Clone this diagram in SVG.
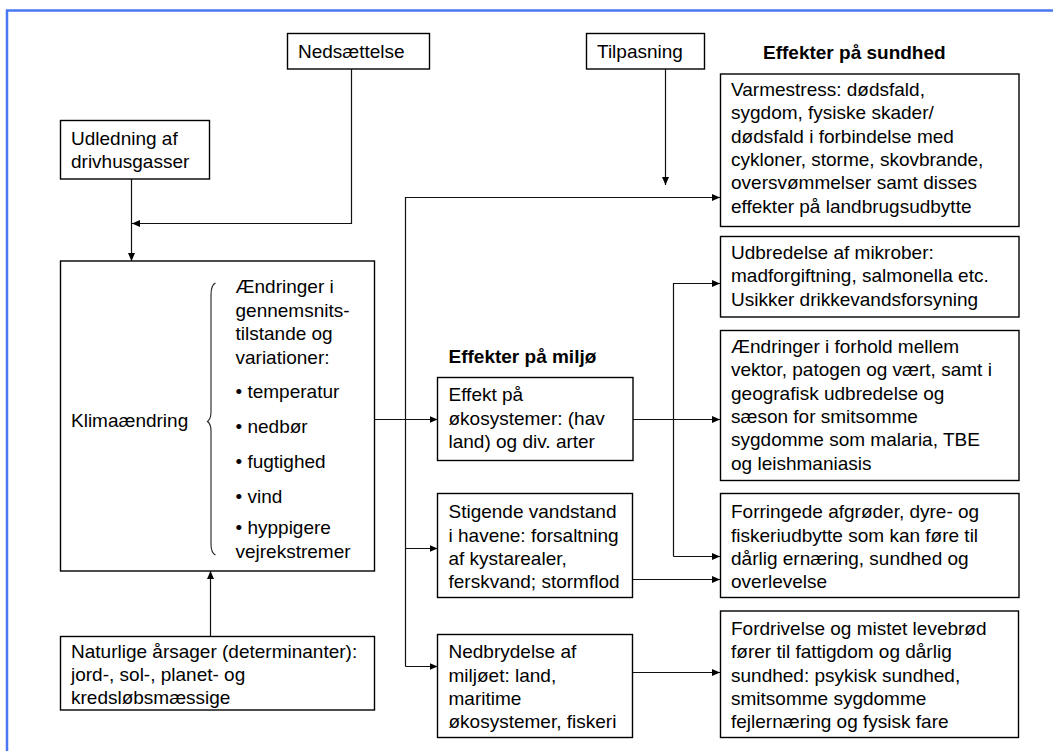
<svg xmlns="http://www.w3.org/2000/svg" width="1053" height="751" viewBox="0 0 1053 751">
<defs>
<style>
text{font-family:"Liberation Sans",Arial,sans-serif;font-size:19px;fill:#000}
.h{font-weight:bold}
.box{fill:#fff;stroke:#000;stroke-width:1.4}
.c{fill:none;stroke:#111;stroke-width:1.2}
</style>
<marker id="ah" markerUnits="userSpaceOnUse" markerWidth="8" markerHeight="7" refX="8" refY="3.5" orient="auto"><path d="M0,0 L8,3.5 L0,7 z" fill="#000"/></marker>
</defs>
<rect width="1053" height="751" fill="#fff"/>
<path d="M7,751 V10.5 H1053" fill="none" stroke="#4a78f2" stroke-width="2.5"/>

<g id="connectors">
<path class="c" d="M131.5,179 V261" marker-end="url(#ah)"/>
<path class="c" d="M351.5,69 V223.5 H132" marker-end="url(#ah)"/>
<path class="c" d="M665.5,69 V185" marker-end="url(#ah)"/>
<path class="c" d="M405.5,666.5 V197.5 H720" marker-end="url(#ah)"/>
<path class="c" d="M405.5,548.5 H437.5" marker-end="url(#ah)"/>
<path class="c" d="M405.5,666.5 H437.5" marker-end="url(#ah)"/>
<path class="c" d="M374.5,419.5 H437.5" marker-end="url(#ah)"/>
<path class="c" d="M633,419.5 H720" marker-end="url(#ah)"/>
<path class="c" d="M673.5,556.5 V283.5 H720" marker-end="url(#ah)"/>
<path class="c" d="M673.5,556.5 H720" marker-end="url(#ah)"/>
<path class="c" d="M632,579.5 H720" marker-end="url(#ah)"/>
<path class="c" d="M632,672.5 H720" marker-end="url(#ah)"/>
<path class="c" d="M210.5,636.5 V571" marker-end="url(#ah)"/>
</g>

<g id="nedsaettelse">
<rect class="box" x="287.5" y="33.5" width="142" height="35.5"/>
<text x="298" y="58">Nedsættelse</text>
</g>
<g id="tilpasning">
<rect class="box" x="586.5" y="33.5" width="118" height="35.5"/>
<text x="597" y="58">Tilpasning</text>
</g>
<g id="heading-sundhed">
<text class="h" x="763" y="58.5">Effekter på sundhed</text>
</g>
<g id="udledning">
<rect class="box" x="60.5" y="120.5" width="149" height="58.5"/>
<text x="71" y="145">Udledning af</text>
<text x="71" y="168">drivhusgasser</text>
</g>
<g id="klimaaendring">
<rect class="box" x="60.5" y="261" width="314" height="310"/>
<text x="71" y="427">Klimaændring</text>
<path d="M215.5,283 Q211,285 211,295 L211,412 Q211,419 207.5,421.5 Q211,424 211,431 L211,544 Q211,553 215.5,555" fill="none" stroke="#222" stroke-width="1.1"/>
<text x="235.5" y="293">Ændringer i</text>
<text x="235.5" y="316.5">gennemsnits-</text>
<text x="235.5" y="340">tilstande og</text>
<text x="235.5" y="363.5">variationer:</text>
<text x="235.5" y="398">• temperatur</text>
<text x="235.5" y="433">• nedbør</text>
<text x="235.5" y="468">• fugtighed</text>
<text x="235.5" y="503">• vind</text>
<text x="235.5" y="534">• hyppigere</text>
<text x="235.5" y="558">vejrekstremer</text>
</g>
<g id="naturlige">
<rect class="box" x="60.5" y="636.5" width="314" height="73.5"/>
<text x="71" y="658">Naturlige årsager (determinanter):</text>
<text x="71" y="681">jord-, sol-, planet- og</text>
<text x="71" y="704">kredsløbsmæssige</text>
</g>
<g id="heading-miljoe">
<text class="h" x="448.5" y="362.5">Effekter på miljø</text>
</g>
<g id="effekt-oekosystemer">
<rect class="box" x="437.5" y="377.5" width="195.5" height="83"/>
<text x="448.5" y="401">Effekt på</text>
<text x="448.5" y="424.5">økosystemer: (hav</text>
<text x="448.5" y="448">land) og div. arter</text>
</g>
<g id="stigende-vandstand">
<rect class="box" x="437.5" y="493.5" width="195" height="104"/>
<text x="448.5" y="518">Stigende vandstand</text>
<text x="448.5" y="541.5">i havene: forsaltning</text>
<text x="448.5" y="565">af kystarealer,</text>
<text x="448.5" y="588">ferskvand; stormflod</text>
</g>
<g id="nedbrydelse">
<rect class="box" x="437.5" y="634.5" width="195" height="103"/>
<text x="448.5" y="658">Nedbrydelse af</text>
<text x="448.5" y="681.5">miljøet: land,</text>
<text x="448.5" y="705">maritime</text>
<text x="448.5" y="728">økosystemer, fiskeri</text>
</g>
<g id="varmestress">
<rect class="box" x="720.5" y="74" width="298.5" height="152.5"/>
<text x="731" y="96">Varmestress: dødsfald,</text>
<text x="731" y="119.3">sygdom, fysiske skader/</text>
<text x="731" y="142.6">dødsfald i forbindelse med</text>
<text x="731" y="166">cykloner, storme, skovbrande,</text>
<text x="731" y="189.3">oversvømmelser samt disses</text>
<text x="731" y="212.6">effekter på landbrugsudbytte</text>
</g>
<g id="mikrober">
<rect class="box" x="720.5" y="236.5" width="298.5" height="80.5"/>
<text x="731" y="259">Udbredelse af mikrober:</text>
<text x="731" y="282.3">madforgiftning, salmonella etc.</text>
<text x="731" y="305.6">Usikker drikkevandsforsyning</text>
</g>
<g id="vektor">
<rect class="box" x="720.5" y="330.5" width="298.5" height="150"/>
<text x="731" y="353">Ændringer i forhold mellem</text>
<text x="731" y="376.3">vektor, patogen og vært, samt i</text>
<text x="731" y="399.6">geografisk udbredelse og</text>
<text x="731" y="423">sæson for smitsomme</text>
<text x="731" y="446.3">sygdomme som malaria, TBE</text>
<text x="731" y="469.6">og leishmaniasis</text>
</g>
<g id="afgroeder">
<rect class="box" x="720.5" y="493.5" width="298.5" height="104"/>
<text x="731" y="518">Forringede afgrøder, dyre- og</text>
<text x="731" y="541.5">fiskeriudbytte som kan føre til</text>
<text x="731" y="565">dårlig ernæring, sundhed og</text>
<text x="731" y="588">overlevelse</text>
</g>
<g id="fordrivelse">
<rect class="box" x="720.5" y="611" width="298" height="126.5"/>
<text x="731" y="635">Fordrivelse og mistet levebrød</text>
<text x="731" y="658.3">fører til fattigdom og dårlig</text>
<text x="731" y="681.6">sundhed: psykisk sundhed,</text>
<text x="731" y="705">smitsomme sygdomme</text>
<text x="731" y="728.3">fejlernæring og fysisk fare</text>
</g>
</svg>
